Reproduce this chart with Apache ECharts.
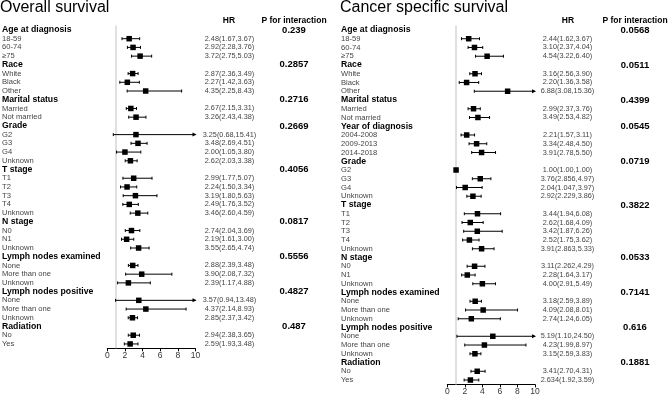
<!DOCTYPE html>
<html>
<head>
<meta charset="utf-8">
<script src="https://cdn.jsdelivr.net/npm/echarts@6/dist/echarts.min.js"></script>
<style>
  html, body { margin: 0; padding: 0; background: #fff; }
  #chart { width: 669px; height: 395px; }
</style>
</head>
<body>
<div id="chart"></div>
<script>
// Overall survival (left panel)
const osLabels = ['Age at diagnosis', '18-59', '60-74', '≥75', 'Race', 'White', 'Black', 'Other',
  'Marital status', 'Married', 'Not married', 'Grade', 'G2', 'G3', 'G4', 'Unknown',
  'T stage', 'T1', 'T2', 'T3', 'T4', 'Unknown', 'N stage', 'N0', 'N1', 'Unknown',
  'Lymph nodes examined', 'None', 'More than one', 'Unknown',
  'Lymph nodes positive', 'None', 'More than one', 'Unknown', 'Radiation', 'No', 'Yes']
const osHR = [null, '2.48(1.67,3.67)', '2.92(2.28,3.76)', '3.72(2.75,5.03)',
  null, '2.87(2.36,3.49)', '2.27(1.42,3.63)', '4.35(2.25,8.43)',
  null, '2.67(2.15,3.31)', '3.26(2.43,4.38)',
  null, '3.25(0.68,15.41)', '3.48(2.69,4.51)', '2.00(1.05,3.80)', '2.62(2.03,3.38)',
  null, '2.99(1.77,5.07)', '2.24(1.50,3.34)', '3.19(1.80,5.63)', '2.49(1.76,3.52)', '3.46(2.60,4.59)',
  null, '2.74(2.04,3.69)', '2.19(1.61,3.00)', '3.55(2.65,4.74)',
  null, '2.88(2.39,3.48)', '3.90(2.08,7.32)', '2.39(1.17,4.88)',
  null, '3.57(0.94,13.48)', '4.37(2.14,8.93)', '2.85(2.37,3.42)',
  null, '2.94(2.38,3.65)', '2.59(1.93,3.48)']
const osP = ['0.239', '0.2857', '0.2716', '0.2669', '0.4056', '0.0817', '0.5556', '0.4827', '0.487']

// Cancer specific survival (right panel)
const cssLabels = ['Age at diagnosis', '18-59', '60-74', '≥75', 'Race', 'White', 'Black', 'Other',
  'Marital status', 'Married', 'Not married', 'Year of diagnosis', '2004-2008', '2009-2013', '2014-2018',
  'Grade', 'G2', 'G3', 'G4', 'Unknown',
  'T stage', 'T1', 'T2', 'T3', 'T4', 'Unknown', 'N stage', 'N0', 'N1', 'Unknown',
  'Lymph nodes examined', 'None', 'More than one', 'Unknown',
  'Lymph nodes positive', 'None', 'More than one', 'Unknown', 'Radiation', 'No', 'Yes']
const cssHR = [null, '2.44(1.62,3.67)', '3.10(2.37,4.04)', '4.54(3.22,6.40)',
  null, '3.16(2.56,3.90)', '2.20(1.36,3.58)', '6.88(3.08,15.36)',
  null, '2.99(2.37,3.76)', '3.49(2.53,4.82)',
  null, '2.21(1.57,3.11)', '3.34(2.48,4.50)', '3.91(2.78,5.50)',
  null, '1.00(1.00,1.00)', '3.76(2.856,4.97)', '2.04(1.047,3.97)', '2.92(2.229,3.86)',
  null, '3.44(1.94,6.08)', '2.62(1.68,4.09)', '3.42(1.87,6.26)', '2.52(1.75,3.62)', '3.91(2.863,5.33)',
  null, '3.11(2.262,4.29)', '2.28(1.64,3.17)', '4.00(2.91,5.49)',
  null, '3.18(2.59,3.89)', '4.09(2.08,8.01)', '2.74(1.24,6.05)',
  null, '5.19(1.10,24.50)', '4.23(1.99,8.97)', '3.15(2.59,3.83)',
  null, '3.41(2.70,4.31)', '2.634(1.92,3.59)']
const cssP = ['0.0568', '0.0511', '0.4399', '0.0545', '0.0719', '0.3822', '0.0533', '0.7141', '0.616', '0.1881']

const xMin = 0, xMax = 10, xStep = 2
const FONT = '"Liberation Sans", Arial, sans-serif'

// "2.48(1.67,3.67)" -> [2.48, 1.67, 3.67]
function parseHR(s) {
  let m = s.match(/([\d.]+)\(([\d.]+),([\d.]+)\)/)
  return [+m[1], +m[2], +m[3]]
}

// p values sit on the group header rows
function pColumn(hr, p) {
  let k = 0
  return hr.map(v => v ? '' : p[k++])
}

// whisker with end caps, arrow when the upper limit runs past the axis
function renderCI(params, api) {
  let row = api.value(2)
  let lo = api.value(0), hi = api.value(1)
  let a = api.coord([lo, row])
  let b = api.coord([Math.min(hi, xMax), row])
  let st = { stroke: '#000', lineWidth: 1 }
  let kids = [
    { type: 'line', shape: { x1: a[0], y1: a[1], x2: b[0], y2: b[1] }, style: st },
    { type: 'line', shape: { x1: a[0], y1: a[1] - 1.5, x2: a[0], y2: a[1] + 1.5 }, style: st }
  ]
  if (hi > xMax) {
    kids.push({ type: 'polygon', shape: { points: [[b[0] + 1, b[1]], [b[0] - 3, b[1] - 2], [b[0] - 3, b[1] + 2]] }, style: { fill: '#000' } })
  } else {
    kids.push({ type: 'line', shape: { x1: b[0], y1: b[1] - 1.5, x2: b[0], y2: b[1] + 1.5 }, style: st })
  }
  return { type: 'group', children: kids }
}

function panel(labels, hr, p, gi, labelMargin, hrMargin, pMargin) {
  let est = [], ci = []
  hr.forEach((s, i) => {
    if (!s) return
    let v = parseHR(s)
    est.push([v[0], i])
    if (v[2] > v[1]) ci.push([v[1], v[2], i])
  })
  let xAxis = {
    type: 'value', gridIndex: gi, min: xMin, max: xMax, interval: xStep,
    axisLine: { show: true, onZero: false, lineStyle: { color: '#000', width: 1 } },
    axisTick: { show: true, length: 3, lineStyle: { color: '#000' } },
    axisLabel: { fontSize: 8.5, color: '#333', margin: 3, fontFamily: FONT },
    splitLine: { show: false }
  }
  let hidden = { show: false }
  let yBase = {
    type: 'category', gridIndex: gi, inverse: true,
    axisLine: hidden, axisTick: hidden, splitLine: hidden
  }
  let yAxes = [
    Object.assign({}, yBase, {
      data: labels,
      axisLabel: {
        interval: 0, align: 'left', margin: labelMargin,
        formatter: (v, i) => hr[i] ? '{i|' + v + '}' : '{h|' + v + '}',
        rich: {
          h: { fontSize: 8.7, fontWeight: 'bold', color: '#000', fontFamily: FONT },
          i: { fontSize: 7.6, color: '#444', fontFamily: FONT }
        }
      }
    }),
    Object.assign({}, yBase, {
      position: 'right', data: hr.map(s => s || ''),
      axisLabel: { interval: 0, align: 'center', margin: hrMargin, fontSize: 7.3, color: '#444', fontFamily: FONT }
    }),
    Object.assign({}, yBase, {
      position: 'right', data: pColumn(hr, p),
      axisLabel: { interval: 0, align: 'center', margin: pMargin, fontSize: 9.5, fontWeight: 'bold', color: '#000', fontFamily: FONT }
    })
  ]
  let yi = gi * 3
  let series = [
    {
      type: 'line', xAxisIndex: gi, yAxisIndex: yi, data: [], z: 1, silent: true,
      markLine: {
        silent: true, z: 1, symbol: ['none', 'none'], label: { show: false },
        lineStyle: { color: '#d6d6d6', width: 1.5, type: 'solid' },
        data: [{ xAxis: 1 }]
      }
    },
    {
      type: 'custom', xAxisIndex: gi, yAxisIndex: yi, data: ci, z: 6,
      encode: { x: [0, 1], y: 2 }, clip: false, renderItem: renderCI
    },
    {
      type: 'scatter', xAxisIndex: gi, yAxisIndex: yi, data: est, z: 7,
      symbol: 'rect', symbolSize: 5.5, itemStyle: { color: '#000', opacity: 1 }
    }
  ]
  return { xAxis, yAxes, series }
}

let left = panel(osLabels, osHR, osP, 0, 105.3, 34, 98.5)
let right = panel(cssLabels, cssHR, cssP, 1, 106.3, 32.5, 100)

function header(x, text) {
  return {
    type: 'text', x: x, y: 21,
    style: { text: text, align: 'center', verticalAlign: 'middle', font: 'bold 8.5px ' + FONT, fill: '#000' }
  }
}

let titleStyle = { fontSize: 16, fontWeight: 'normal', color: '#000', fontFamily: FONT }
let chart = echarts.init(document.getElementById('chart'), null, { renderer: 'canvas' })
chart.setOption({
  animation: false,
  backgroundColor: '#fff',
  title: [
    { text: 'Overall survival', left: 0, top: 0, padding: 0, textStyle: titleStyle },
    { text: 'Cancer specific survival', left: 340, top: 0, padding: 0, textStyle: titleStyle }
  ],
  grid: [
    { left: 107.3, right: 473.5, top: 25.6, bottom: 46.7, containLabel: false, outerBoundsMode: 'none' },
    { left: 447.3, right: 134, top: 25.6, bottom: 10.6, containLabel: false, outerBoundsMode: 'none' }
  ],
  xAxis: [left.xAxis, right.xAxis],
  yAxis: left.yAxes.concat(right.yAxes),
  series: left.series.concat(right.series),
  graphic: [header(229, 'HR'), header(294, 'P for interaction'), header(568, 'HR'), header(635, 'P for interaction')]
})
</script>
</body>
</html>
